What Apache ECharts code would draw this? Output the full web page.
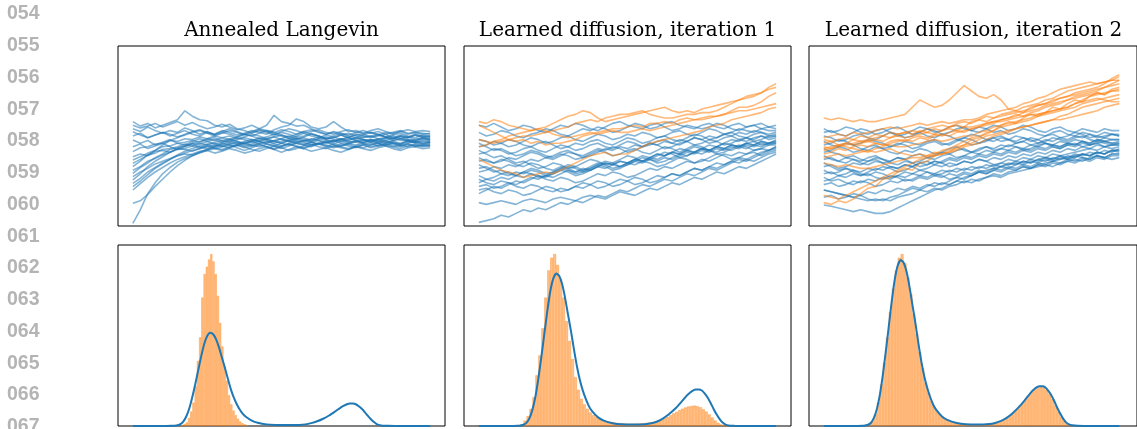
<!DOCTYPE html>
<html><head><meta charset="utf-8">
<script src="https://cdn.jsdelivr.net/npm/echarts@6/dist/echarts.min.js"></script>
<style>html,body{margin:0;padding:0;background:#fff}#c{width:1137px;height:429px}</style>
</head><body><div id="c"></div>
<script>
const panelTitles = ['Annealed Langevin', 'Learned diffusion, iteration 1', 'Learned diffusion, iteration 2'];
const lineNumbers = ['054','055','056','057','058','059','060','061','062','063','064','065','066','067'];
const timeSteps = [0,2.5,5,7.5,10,12.5,15,17.5,20,22.5,25,27.5,30,32.5,35,37.5,40,42.5,45,47.5,50,52.5,55,57.5,60,62.5,65,67.5,70,72.5,75,77.5,80,82.5,85,87.5,90,92.5,95,97.5,100];

const langevinBlue = [
[58,55.5,57,54.5,56,57.5,59,64,61,59,58.5,56,55,56.5,54,53,51.5,53,52,50.5,52,51,49.5,50,51.5,50,48.5,49,50.5,49,48,49.5,50,48.5,49,50,48.5,49.5,48,49,48.5],
[54,52.5,55,53,51.5,53,52,54.5,53,51,52.5,50.5,52,51,49.5,51,52.5,54,56,61.5,58,57,55.5,56,54,52.5,51,52,50.5,49,50.5,51,49.5,50,51,49,50.5,49.5,51,50,49.5],
[50,51.5,49,50.5,52,50,51.5,53,51,50,52,51,53,52,50.5,51.5,53,52,51,53.5,55,56,59.5,58,55,54,55,58,55,52.5,53,51.5,52,50.5,52,51,52.5,51,52,51.5,51],
[47.8,46,47.5,45,46.5,48,46,45,47,48.5,47,45.5,46.5,48,47,45.5,47,48.5,47.5,46,47,48.5,47,45.5,46.5,47.5,46,47,48,46.5,47.5,46,47,48,46.5,47,46,47.5,46.5,47,46.5],
[44,45.5,43,44.5,46,44,42.5,44,45.5,44,43,44.5,46,45,43.5,42,43.5,45,44,42.5,44,45.5,44,43,44.5,46,45,44,45.5,44.5,43.5,45,46,44.5,45,46,44.5,45.5,44,45,44.5],
[41.3,43.5,44,45.5,46,47.5,47,48.5,48,49.5,48.5,50,49,48,49.5,51,50,48.5,49.5,51,50,48.5,50,51.5,50,49,50.5,49.5,48,49.5,51,50,49,50.5,49.5,48.5,50,49,50.5,49.5,50],
[38.5,40,39,41.5,42,41,43,42.5,41.5,43,44.5,43,42,43.5,45,44,42.5,41.5,43,44.5,43.5,42,43,44.5,45.5,44,43,44.5,43.5,42.5,44,45,43.5,44.5,45.5,44,43,44.5,45,44,44.5],
[36.7,38.5,40.5,42,44,44.5,46,46.5,47.5,46.5,48,49,47.5,48.5,47,46,47.5,49,48,47,48.5,50,48.5,47,48,49.5,48,47,48.5,47.5,49,48,46.5,48,49,47.5,48.5,47,48,49,48],
[34.8,37,39.5,40.5,42.5,43,44,45.5,44.5,46,45,44,45.5,47,46,44.5,45.5,47,45.5,44.5,46,47.5,46,45,46.5,45.5,44,45.5,47,46,45,46.5,47.5,46,45,46.5,45.5,47,46,45.5,46],
[33,36,39.5,42,45,47.5,49,51,52.5,53.5,52,51,52.5,54,52.5,51,50,51.5,53,52,50.5,49.5,51,52.5,51,50,48.5,50,51.5,50,49,50.5,52,51,49.5,50.5,51.5,50,49,50.5,50],
[31,33,36,37.5,39.5,41,42.5,43,44.5,43.5,45,46,44.5,43.5,45,46.5,45,44,45.5,44.5,43,44.5,46,45,44,45.5,46.5,45,44,43,44.5,45.5,44,45,46,45,44,45.5,44.5,45,45.5],
[29.3,32.5,35,38,40,42.5,43.5,44.5,46,45.5,47,48,46.5,47.5,49,48,46.5,47.5,48.5,47,46,47.5,49,48,47,48.5,47.5,46.5,48,49,47.5,46.5,48,47,48.5,49,47.5,48,47,48.5,47.5],
[27.4,30,32,34.5,36,37.5,39,40,39.5,41,42,40.5,41.5,43,42,40.5,41.5,43,44,42.5,41,42.5,44,43,41.5,42.5,43.5,42,41,42.5,44,43,42,43.5,44.5,43,42,43.5,44,43,43.5],
[25.6,29,33,36,38.5,41,43,44.5,46,47,48.5,47.5,49,50,48.5,49.5,51,50,48.5,49.5,50.5,49,48,49.5,51,50,48.5,49,50.5,51.5,50,49,50,51,49.5,48.5,50,49,50.5,49.5,49],
[23.7,26.5,30,32.5,35,37,39,40.5,42,43,44,45,44,45.5,46.5,45.5,44.5,46,47,45.5,44.5,46,47.5,46.5,45,46,47,45.5,44.5,46,47,46,45,46.5,47.5,46,45,46,47,46,46.5],
[21.9,25,28.5,32,34.5,37,39.5,41.5,43,44.5,45.5,46.5,47.5,46.5,48,49,48,47,48.5,49.5,48,47,48.5,49,47.5,48.5,49.5,48,47,48,49,48,47.5,48.5,47.5,48.5,49.5,48,47.5,48.5,48],
[20,23.5,27,30,32.5,35,37,38.5,40,41.5,42.5,43.5,42.5,44,45,43.5,44.5,45.5,44,43,44.5,45.5,44.5,43.5,45,46,44.5,43.5,44.5,45.5,44,43.5,45,46,44.5,44,45,44,45.5,44.5,45],
[12.6,14,17.5,22,26,30,33.5,36.5,39,41,42.5,44,45,46,45.5,47,48,47,46,47.5,48.5,47,46,47.5,48.5,47.5,46.5,47.5,48.5,47,46.5,47.5,48,47,46,47.5,48.5,47.5,46.5,47.5,47],
[1.5,9,18,24,29,32.5,35.5,37.5,39,40.5,42,43,44,45,44.5,46,47,45.5,46.5,47.5,46,45,46.5,47.5,46.5,45.5,46.5,47.5,46,45.5,47,48,46.5,46,47,46,45.5,47,46.5,46,46.5],
[56,54.5,55.5,57,55,56.5,58,56,57.5,55.5,54,55,56.5,55,53.5,54.5,56,54,53,52,53.5,52.5,51,52.5,53.5,52,51,52.5,51.5,50.5,52,53,51.5,52.5,51,52,53,51.5,52,51,51.5],
[52.4,50.5,49,50.5,52,51,49.5,50.5,52,53,51.5,50,51.5,53,52,50.5,52,53.5,52.5,51,52.5,54,53,51.5,52.5,53.5,52,51,52.5,53.5,52,51.5,53,54,52.5,51.5,52.5,53.5,52.5,53,52.5]
];

const iter1Blue = [
[56,55,57,55,53,54,56,55,53,52,54,56,55,57,56,54,53,55,57,58,56,55,54,56,57,55,53,54,56,55,54,55,57,56,54,53,55,56,54,55,54],
[52,50,51,53,52,50,49,51,52,54,53,51,50,52,54,53,55,54,52,53,55,57,56,54,55,57,58,56,55,54,56,57,55,54,56,57,55,56,57,55,56],
[48,47,45,46,48,47,45,44,46,47,45,43,44,46,45,47,48,46,45,47,49,48,46,47,49,50,48,47,49,51,50,48,49,51,52,50,49,51,52,50,51],
[46,44,42,43,41,39,40,42,41,39,38,40,39,37,38,40,42,41,39,40,42,43,41,40,42,44,43,41,43,45,44,42,44,46,45,44,46,47,45,46,47],
[44,45,47,46,44,45,47,49,48,46,47,49,50,48,47,49,51,50,48,49,51,50,52,51,49,50,52,53,51,50,52,54,53,51,52,54,53,52,54,53,53],
[42,40,38,39,37,35,36,34,32,33,35,34,32,33,35,37,36,34,35,37,39,38,36,37,39,41,40,38,39,41,43,42,40,41,43,45,44,42,43,45,45],
[40,41,43,42,40,41,43,44,42,41,43,45,44,42,43,45,46,44,43,45,47,46,44,45,47,48,46,45,47,49,48,46,47,49,50,48,47,49,50,48,49],
[38,36,35,37,36,34,33,35,34,32,31,33,32,30,31,33,35,34,32,33,35,34,36,35,33,34,36,38,37,35,36,38,40,39,37,38,40,41,39,41,42],
[36,37,35,36,38,37,39,41,40,38,39,41,42,40,39,41,43,42,44,43,41,42,44,46,45,43,44,46,47,45,46,48,47,45,46,48,49,47,48,50,50],
[34,32,30,31,29,28,30,32,31,29,30,32,34,33,31,32,34,36,35,33,34,36,38,37,35,36,38,40,39,41,40,42,41,43,42,44,43,45,44,46,46],
[32,33,31,29,30,28,27,29,28,26,25,27,26,24,25,27,29,28,30,29,27,28,30,32,31,33,32,34,36,35,37,36,38,40,39,41,40,42,43,42,44],
[30,31,33,32,34,33,35,37,36,38,37,39,41,40,38,39,41,43,42,44,43,45,44,46,45,47,46,48,47,49,48,50,49,51,50,52,51,53,52,51,52],
[28,26,27,29,28,30,29,31,30,28,29,31,33,32,30,31,33,35,34,36,35,37,36,38,40,39,41,40,42,41,43,42,44,43,45,44,46,45,47,46,48],
[26,24,23,25,24,22,21,23,22,20,19,21,20,22,24,23,21,22,24,26,25,23,24,26,28,27,29,28,30,32,31,33,32,34,36,35,37,36,38,40,41],
[24,26,25,27,26,28,30,29,27,28,30,32,31,29,30,32,34,33,31,32,34,36,35,37,36,38,37,39,41,40,42,41,43,42,44,43,45,44,46,45,46],
[22,23,21,22,24,23,25,27,26,28,27,29,31,30,32,31,33,35,34,36,35,37,39,38,40,39,41,43,42,44,43,45,44,46,48,47,49,48,50,49,50],
[20,21,19,18,20,19,17,18,20,22,21,19,20,22,21,23,25,24,22,23,25,27,26,24,25,27,29,28,30,32,31,33,35,34,36,38,37,39,41,42,43],
[18,20,22,21,23,25,24,26,28,27,29,31,30,28,29,31,33,32,34,33,35,37,36,38,37,39,41,40,42,41,43,42,44,43,45,44,46,45,47,46,47],
[13,12,13,14,13,12,14,15,14,13,15,16,15,14,16,17,16,15,17,19,18,17,19,21,20,22,24,23,25,27,26,28,30,29,31,33,32,34,36,38,40],
[2,3,4,6,5,7,9,8,10,9,11,13,12,14,13,15,17,16,18,20,19,21,23,22,24,26,25,27,29,28,30,32,31,33,35,37,36,38,40,42,44]
];
const iter1Orange = [
[58,57,59,58,56,55,54,53,54,55,57,59,61,62,64,63,60,58,59,60,61,62,63,64,65,66,64,63,64,63,65,66,67,68,69,70,71,72,74,77,79],
[56,54,52,50,48,47,48,46,47,45,46,46,47,48,50,51,52,53,54,54,55,56,55,57,57,58,57,59,60,59,60,61,61,62,64,66,66,67,69,72,74],
[44,45,47,48,50,51,52,53,54,53,51,50,49,50,51,52,51,52,53,52,52,53,54,53,54,55,56,57,58,59,59,60,61,62,63,64,64,65,66,67,68],
[37,35,33,31,30,29,27,28,29,30,29,31,33,35,37,39,40,41,39,40,40,42,44,46,47,48,49,50,51,52,53,55,56,57,59,60,61,62,63,65,66],
[48,47,46,47,48,49,50,50,51,52,53,54,55,57,58,59,58,60,61,62,62,63,64,62,61,60,60,61,62,62,63,63,64,66,68,70,72,73,74,76,77]
];

const iter2Blue = [
[54,52,53,55,54,52,51,53,54,52,50,51,53,55,54,52,53,55,56,54,53,55,54,52,53,51,52,54,53,51,50,52,53,51,50,52,51,49,50,51,50],
[50,49,47,48,50,51,49,48,50,52,51,49,50,52,54,53,51,52,54,55,53,52,54,56,55,53,54,56,55,53,52,54,55,53,52,54,53,52,54,53,53],
[47,45,44,46,45,43,42,44,43,41,40,42,41,43,42,40,41,43,44,42,41,43,44,42,43,45,44,42,43,45,46,44,43,45,46,44,45,46,44,45,45],
[45,46,48,47,45,46,48,47,46,44,45,47,46,45,47,48,46,45,47,49,48,46,47,49,50,48,47,49,48,46,47,49,48,47,49,50,48,47,49,48,48],
[43,41,40,38,39,37,36,38,37,35,34,36,35,33,34,36,35,33,34,36,35,37,36,34,35,37,36,38,37,39,38,40,39,37,38,40,39,41,40,42,41],
[41,42,44,43,41,42,44,45,43,44,46,45,43,44,46,47,45,46,48,47,45,46,48,49,47,48,50,49,47,48,50,51,49,50,52,51,49,50,52,51,51],
[39,37,36,38,37,35,34,36,35,33,32,34,33,31,32,34,33,35,34,36,35,37,36,38,37,39,38,40,39,41,40,42,41,43,42,44,43,45,44,43,44],
[37,38,36,35,37,36,38,39,37,36,38,37,35,36,38,37,39,40,38,39,41,40,42,41,43,42,44,43,45,44,46,45,44,46,45,47,46,48,47,46,47],
[35,33,31,32,30,28,29,27,26,28,27,25,26,28,27,29,28,26,27,29,28,30,29,31,30,32,31,33,32,34,33,35,34,36,35,37,36,38,37,39,39],
[33,34,32,33,35,34,36,37,35,36,38,37,39,40,38,39,41,40,42,43,41,42,44,43,45,44,46,47,45,46,48,47,49,48,50,49,51,50,49,51,50],
[31,29,30,32,31,29,28,30,29,27,28,30,29,31,30,28,29,31,30,32,31,33,32,34,33,35,34,36,35,37,36,38,37,39,38,40,39,41,40,42,42],
[29,30,28,29,31,30,32,31,33,32,30,31,33,35,34,36,35,37,36,38,37,39,38,40,39,41,40,42,41,43,42,44,43,45,44,46,45,47,46,45,46],
[27,25,26,24,23,25,24,22,23,25,24,26,25,27,26,28,27,29,28,30,29,31,30,32,31,33,32,34,33,35,34,36,35,37,36,38,37,39,38,40,40],
[25,26,28,27,29,28,30,32,31,33,32,34,33,35,36,34,36,38,37,39,38,40,39,41,40,42,41,43,42,44,43,45,44,46,45,47,46,48,47,48,48],
[23,24,22,23,25,24,26,25,27,26,28,27,29,28,30,29,31,30,32,31,33,32,34,33,35,34,36,35,37,36,38,37,39,38,40,39,41,40,42,41,43],
[20,19,18,17,16,15,14,15,14,16,17,19,21,20,22,24,23,25,27,26,28,30,29,31,33,32,34,36,35,37,38,37,39,40,41,42,43,42,44,45,45],
[11.7,11,10,9,8,9,8,7,7,8,10,12,14,16,18,20,21,23,25,27,28,30,31,32,33,34,35,34,36,35,37,36,38,37,39,38,37,39,38,37,38],
[20,19,18,17,16,17,15,14,15,14,16,17,18,20,19,21,20,22,23,25,24,26,27,29,28,30,31,33,32,34,35,36,37,38,39,40,39,41,40,42,42],
[16,17,15,16,18,17,19,18,20,19,21,20,22,21,23,22,24,23,25,24,26,25,27,28,27,29,30,31,32,33,34,33,35,36,37,36,38,39,38,40,40],
[52,53,51,50,52,54,53,51,52,54,55,53,51,52,50,49,51,50,48,49,51,50,48,47,49,48,46,47,49,48,46,45,47,46,48,47,45,46,47,46,46]
];
const iter2Orange = [
[60,59,60,59,58,59,58,58,59,60,61,62,66,70,68,66,67,70,74,78,75,72,71,73,70,65,64,66,67,68,70,71,73,75,76,77,78,79,80,81,83],
[13,12,14,13,15,18,21,22,26,27,30,32,31,35,36,39,40,41,44,45,48,49,52,53,56,58,57,60,62,61,63,66,65,68,70,69,72,74,73,76,77],
[48,47,48,49,48,50,49,51,50,52,51,52,51,53,52,54,53,55,56,55,58,59,61,60,62,63,64,63,66,67,68,70,71,72,74,75,76,77,79,82,84],
[44,43,45,44,43,42,41,43,44,46,47,48,47,49,48,50,51,50,52,53,54,55,57,58,59,60,61,63,64,65,67,68,69,70,72,73,74,75,77,79,81],
[40,41,43,42,44,45,44,46,45,47,48,47,49,50,49,51,50,52,53,52,54,55,56,57,59,60,62,61,63,64,66,67,68,70,71,72,73,74,73,75,75],
[46,47,45,46,48,47,47,46,45,45,44,44,45,46,47,48,47,48,49,50,50,52,53,55,56,57,58,59,60,62,63,64,65,66,68,69,70,71,70,69,69],
[38,39,40,39,40,41,42,41,42,43,41,40,39,40,39,41,40,41,42,44,45,46,48,50,51,52,54,55,56,57,58,59,61,62,64,66,67,68,69,70,71],
[42,43,44,45,46,47,48,49,50,49,51,52,53,52,54,55,56,55,57,58,57,59,58,60,61,62,63,64,65,67,68,69,71,72,73,74,75,76,77,78,79],
[49,50,51,50,52,51,52,53,54,55,54,55,56,57,56,57,58,57,58,59,59,60,62,63,64,65,66,68,69,71,72,74,76,77,78,79,80,79,80,81,81],
[35,34,33,34,33,32,32,33,34,35,36,37,38,38,39,39,40,42,43,45,46,48,50,51,52,53,54,55,56,57,58,59,59,60,61,62,63,64,66,67,68],
[17,16,15,17,19,21,23,25,27,29,31,33,35,37,38,40,42,43,45,47,49,50,51,53,55,56,57,58,59,61,62,63,64,65,66,68,69,70,71,72,73],
[43,44,45,46,45,46,47,48,47,49,50,49,50,51,52,51,53,54,53,55,55,56,57,58,58,59,60,61,62,62,63,64,65,66,68,70,72,73,74,75,76]
];

const densityX = [0,10,13,14,15,16,17,18,19,20,21,22,23,24,25,26,27,28,29,30,31,32,33,34,35,36,37,38,40,42,45,48,52,56,58,60,62,64,66,68,70,71,72,73,74,75,76,77,78,79,80,81,82,83,84,86,90,100];
const densityLangevin = [0,0,0.1,0.2,0.4,1.0,2.6,5.4,9.8,16.0,23.2,30.9,38.6,45.3,49.7,51.5,50.7,47.9,43.3,37.6,31.9,25.8,20.1,15.5,11.9,9.0,6.7,5.1,3.0,1.8,0.9,0.6,0.5,0.6,0.9,1.6,2.6,4.0,5.8,8.0,10.3,11.2,12.0,12.4,12.4,12.0,10.9,9.5,7.7,5.7,3.9,2.3,1.1,0.5,0.2,0.1,0,0];
const densityIter1 = [0,0,0.1,0.3,0.7,1.7,4.2,8.9,16.0,26.1,37.9,50.6,63.2,74.2,81.3,84.3,83.0,78.4,70.8,61.5,52.3,42.2,32.9,25.3,19.4,14.8,11.0,8.3,4.9,3.0,1.5,0.9,0.8,1.0,1.5,2.5,4.2,6.6,9.5,13.1,16.9,18.4,19.6,20.2,20.2,19.6,17.9,15.6,12.6,9.3,6.3,3.8,1.9,0.8,0.3,0.1,0,0];
const densityIter2 = [0,0,0.1,0.3,0.7,1.8,4.6,9.6,17.4,28.4,41.3,55.0,68.8,80.7,88.5,91.7,90.3,85.3,77.0,66.9,56.9,45.9,35.8,27.5,21.1,16.0,11.9,9.0,5.3,3.2,1.7,1.0,0.8,1.1,1.7,2.8,4.6,7.2,10.4,14.2,18.3,20.0,21.3,22.0,22.0,21.3,19.4,17.0,13.8,10.1,6.9,4.1,2.0,0.9,0.4,0.1,0,0];

const histLangevinBins = {start: 16.25, width: 0.75};
const histLangevin = [0.5,1.2,2,4.5,8,13,22,36,49,71,84,88,92,95,91,84,72,57,44,33,25,17,12,8.5,6,4,2.5,1.6,1,0.5];
const histIterBins = {start: 14, width: 1};
const histIter1 = [1,3,5.5,9.5,16,28,39,54,71,86,93,95,89,81,71,58,47,37,27,20,15,12,9.5,7.5,6,5,4.2,3.5,3,2.6,2.3,2,1.8,1.6,1.5,1.4,1.3,1.3,1.3,1.4,1.5,1.6,1.8,2,2.3,2.6,3,3.5,4.2,5,6,7,7.8,8.8,9.6,10.3,10.8,11.1,11.3,11,10.4,9.3,8,6.4,4.7,3.1,1.8,0.9,0.4,0.1];
const histIter2 = [0.2,0.8,2.5,6.5,13,23,35,49,63,76,86,93,95,90,82,73,62,51,41,32,24,18.5,14,10.5,8,6,4.6,3.5,2.7,2.1,1.7,1.4,1.2,1.0,0.9,0.8,0.8,0.8,0.8,0.9,1.0,1.1,1.3,1.6,2.0,2.5,3.1,3.9,5.0,6.3,7.8,9.5,11.3,13.2,15.2,17.1,18.8,20.2,21.3,21.8,21.4,20.0,17.8,14.8,11.4,8.0,5.0,2.6,1.1,0.4];

const BLUE = '#1f77b4', ORANGE = '#ff7f0e';
const chart = echarts.init(document.getElementById('c'), null, {renderer: 'canvas'});

const grids = [
  {left: 118, top: 46, width: 327, height: 180},
  {left: 464, top: 46, width: 327, height: 180},
  {left: 809, top: 46, width: 330, height: 180},
  {left: 118, top: 245, width: 327, height: 181},
  {left: 464, top: 245, width: 327, height: 181},
  {left: 809, top: 245, width: 330, height: 181}
].map(g => Object.assign({show: true, borderColor: '#000', borderWidth: 1, backgroundColor: 'transparent', containLabel: false}, g));

const xMax = [105, 105, 106, 105, 105, 106];
const xAxes = grids.map((g, i) => ({type: 'value', gridIndex: i, min: -5, max: xMax[i], show: false}));
const yAxes = grids.map((g, i) => ({type: 'value', gridIndex: i, min: 0, max: 100, show: false}));

const series = [];
function addTraj(list, gi, color) {
  list.forEach(vals => {
    series.push({
      type: 'line', xAxisIndex: gi, yAxisIndex: gi, silent: true, animation: false,
      symbol: 'none', showSymbol: false,
      data: vals.map((v, i) => [timeSteps[i], v]),
      lineStyle: {color: color, width: 1.6, opacity: 0.55},
      z: color === ORANGE ? 3 : 2
    });
  });
}
addTraj(langevinBlue, 0, BLUE);
addTraj(iter1Blue, 1, BLUE);
addTraj(iter1Orange, 1, ORANGE);
addTraj(iter2Blue, 2, BLUE);
addTraj(iter2Orange, 2, ORANGE);

function addHist(vals, bins, gi) {
  const px = bins.width * 327 / 110;
  series.push({
    type: 'bar', xAxisIndex: gi, yAxisIndex: gi, silent: true, animation: false,
    barWidth: px,
    data: vals.map((h, i) => [bins.start + bins.width * (i + 0.5), h]),
    itemStyle: {color: 'rgba(255,127,14,0.5)', borderColor: 'rgba(255,127,14,0.6)', borderWidth: 0.6},
    z: 2
  });
}
function addDensity(vals, gi) {
  series.push({
    type: 'line', xAxisIndex: gi, yAxisIndex: gi, silent: true, animation: false,
    symbol: 'none', showSymbol: false, smooth: 0.2, clip: false,
    data: vals.map((v, i) => [densityX[i], v]),
    lineStyle: {color: BLUE, width: 2},
    z: 4
  });
}
addHist(histLangevin, histLangevinBins, 3); addDensity(densityLangevin, 3);
addHist(histIter1, histIterBins, 4); addDensity(densityIter1, 4);
addHist(histIter2, histIterBins, 5); addDensity(densityIter2, 5);

const graphics = [];
lineNumbers.forEach((t, k) => {
  graphics.push({type: 'text', x: 7, y: 14 + 31.75 * k, silent: true,
    style: {text: t, fill: '#b4b4b4', font: 'bold 19.5px "Liberation Sans", Arial, sans-serif', align: 'left', verticalAlign: 'middle'}});
});
const titleX = [281.5, 627.5, 973.5];
panelTitles.forEach((t, k) => {
  graphics.push({type: 'text', x: titleX[k], y: 31, silent: true,
    style: {text: t, fill: '#000', font: '20px "DejaVu Serif", serif', align: 'center', verticalAlign: 'middle'}});
});

chart.setOption({
  animation: false,
  grid: grids, xAxis: xAxes, yAxis: yAxes,
  series: series,
  graphic: graphics
});
</script>
</body></html>
